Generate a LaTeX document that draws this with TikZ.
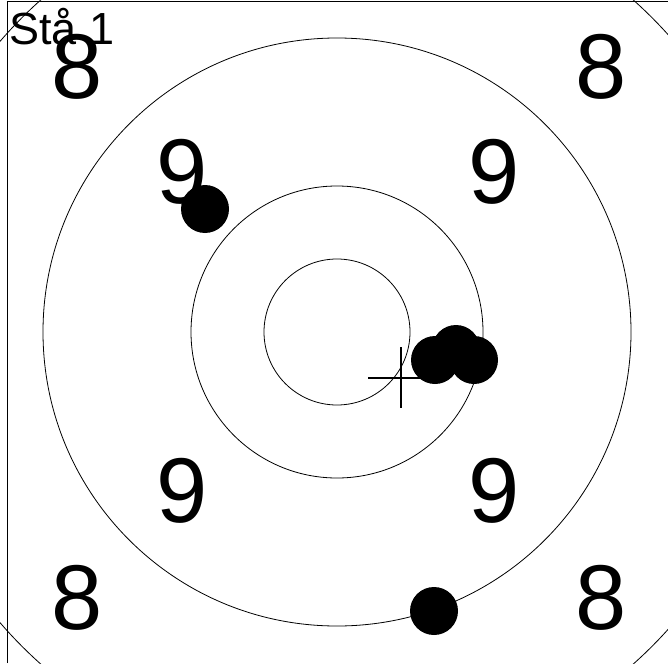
\documentclass[tikz,border=0pt]{standalone}
\usepackage{fontspec}
\setmainfont{Liberation Sans}
\usepackage{tikz}
\tikzset{
  ringnum/.style={inner sep=0pt,anchor=center,font=\fontsize{92}{92}\selectfont},
  shot/.style={circle,fill=black,inner sep=0pt,minimum size=48pt}
}

\begin{document}
\begin{tikzpicture}[x=1pt,y=-1pt]
\useasboundingbox (0,0) rectangle (668,663);
\clip (0,0) rectangle (668,663);
% frame
\draw[line width=1pt] (7,663) -- (7,2) -- (668,2);
% rings
\foreach \r in {73,146,294,445} \draw[line width=0.8pt] (337,332) circle (\r);
% ring numbers
\node[ringnum] (e1) at (77,67) {8};
\node[ringnum] (e2) at (601,67) {8};
\node[ringnum] (e3) at (77,598) {8};
\node[ringnum] (e4) at (601,598) {8};
\node[ringnum] (n1) at (182,172) {9};
\node[ringnum] (n2) at (494,172) {9};
\node[ringnum] (n3) at (182,491) {9};
\node[ringnum] (n4) at (494,491) {9};
% title
\node[inner sep=0pt,anchor=base west,font=\fontsize{45}{45}\selectfont] (title) at (9,45) {Stå 1};
% centre cross
\draw[line width=2pt] (368,378) -- (434,378);
\draw[line width=2pt] (401,347) -- (401,408);
% shots
\node[shot] (s1) at (205,209) {};
\node[shot] (s2) at (434,611) {};
\node[shot] (s3) at (435,360) {};
\node[shot] (s4) at (456,349) {};
\node[shot] (s5) at (474,360) {};
\end{tikzpicture}
\end{document}
